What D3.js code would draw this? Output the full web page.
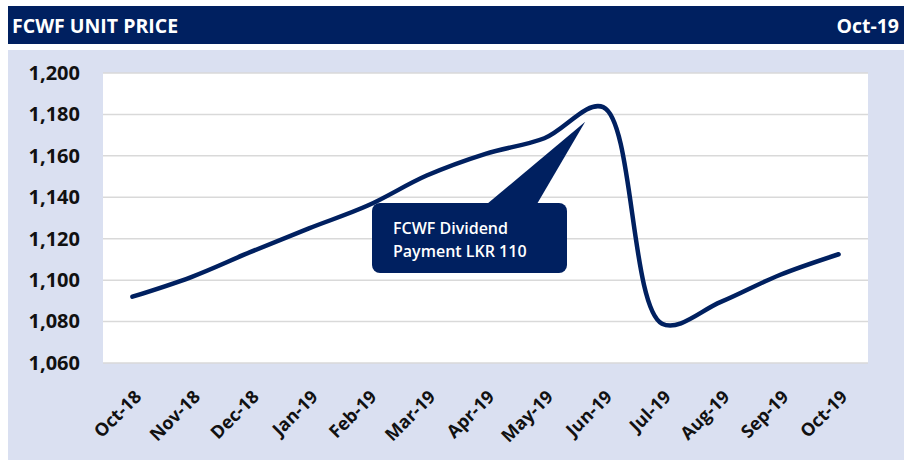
<!DOCTYPE html>
<html>
<head>
<meta charset="utf-8">
<script src="https://cdn.jsdelivr.net/npm/d3@7"></script>
<style>
  body { margin: 0; background: #fff; }
  svg text { font-family: "Open Sans", sans-serif; }
</style>
</head>
<body>
<div id="chart"></div>
<script>
// data
var months = ["Oct-18", "Nov-18", "Dec-18", "Jan-19", "Feb-19", "Mar-19", "Apr-19",
              "May-19", "Jun-19", "Jul-19", "Aug-19", "Sep-19", "Oct-19"];
var unitPrice = [1092, 1101.5, 1113.5, 1125, 1136, 1150.5, 1161, 1168.5, 1183.5, 1079, 1089.5, 1102.5, 1112.5];
var yTicks = [1060, 1080, 1100, 1120, 1140, 1160, 1180, 1200];
var title = "FCWF UNIT PRICE";
var period = "Oct-19";
var noteLines = ["FCWF Dividend", "Payment LKR 110"];

var W = 904, H = 460;
var navy = "#002060", panel = "#dae0f1";

var svg = d3.select("#chart").append("svg")
    .attr("width", W)
    .attr("height", H);

// header band
svg.append("rect").attr("x", 8).attr("y", 6).attr("width", W - 8).attr("height", 38).attr("fill", navy);
svg.append("text").attr("x", 12).attr("y", 33)
    .attr("fill", "#fff").attr("font-size", 19.5).attr("font-weight", 700)
    .text(title);
svg.append("text").attr("x", 899).attr("y", 33).attr("text-anchor", "end")
    .attr("fill", "#fff").attr("font-size", 19.5).attr("font-weight", 700)
    .text(period);

// light panel
svg.append("rect").attr("x", 8).attr("y", 50).attr("width", W - 8).attr("height", H - 50).attr("fill", panel);

var margin = {top: 73, right: 36, bottom: 97, left: 103},
    width = W - margin.left - margin.right,
    height = H - margin.top - margin.bottom;

var g = svg.append("g").attr("transform", "translate(" + margin.left + "," + margin.top + ")");

g.append("rect").attr("width", width).attr("height", height).attr("fill", "#fff");

var xScale = d3.scaleBand().domain(months).range([0, width]);
var yScale = d3.scaleLinear().domain([1060, 1200]).range([height, 0]);

// gridlines
g.selectAll(".grid").data(yTicks).enter().append("line")
    .attr("x1", 0).attr("x2", width)
    .attr("y1", function(d) { return yScale(d); })
    .attr("y2", function(d) { return yScale(d); })
    .attr("stroke", "#d9d9d9").attr("stroke-width", 1.5);

// y axis
var yAxis = d3.axisLeft(yScale).tickValues(yTicks).tickSize(0).tickPadding(23)
    .tickFormat(d3.format(",d"));
g.append("g").attr("class", "y axis").call(yAxis)
    .call(function(s) { s.select(".domain").remove(); })
    .selectAll("text")
    .attr("font-size", 20).attr("font-weight", 700).attr("fill", "#111")
    .style("font-family", "'Open Sans', sans-serif");

// x axis
var xAxis = d3.axisBottom(xScale).tickSize(0);
g.append("g").attr("class", "x axis")
    .attr("transform", "translate(0," + height + ")")
    .call(xAxis)
    .call(function(s) { s.select(".domain").remove(); })
    .selectAll("text")
    .attr("font-size", 18).attr("font-weight", 700).attr("fill", "#111")
    .style("font-family", "'Open Sans', sans-serif")
    .attr("text-anchor", "end")
    .attr("dy", null)
    .attr("y", 0)
    .attr("transform", "translate(10,35) rotate(-45)");

// the price line
var line = d3.line()
    .x(function(d, i) { return xScale(months[i]) + xScale.bandwidth() / 2; })
    .y(function(d) { return yScale(d); })
    .curve(d3.curveCatmullRom.alpha(0.5));

g.append("path").datum(unitPrice)
    .attr("d", line)
    .attr("fill", "none")
    .attr("stroke", navy)
    .attr("stroke-width", 4.5)
    .attr("stroke-linecap", "round")
    .attr("stroke-linejoin", "round");

// callout pointing at the dividend month
var jx = xScale("Jun-19") + xScale.bandwidth() / 2;
var tipX = jx - 18, tipY = yScale(1176.5);
var bx = 269, by = 130, bw = 195, bh = 70;
var note = g.append("g");
note.append("rect").attr("x", bx).attr("y", by).attr("width", bw).attr("height", bh)
    .attr("rx", 8).attr("fill", navy);
note.append("path")
    .attr("d", "M" + (bx + 115) + "," + (by + 1) + "L" + tipX + "," + tipY + "L" + (bx + 165) + "," + (by + 1) + "Z")
    .attr("fill", navy);
note.selectAll("text.note").data(noteLines).enter().append("text")
    .attr("x", bx + 21)
    .attr("y", function(d, i) { return by + 31 + i * 23; })
    .attr("fill", "#fff").attr("font-size", 16).attr("font-weight", 600)
    .text(function(d) { return d; });
</script>
</body>
</html>
